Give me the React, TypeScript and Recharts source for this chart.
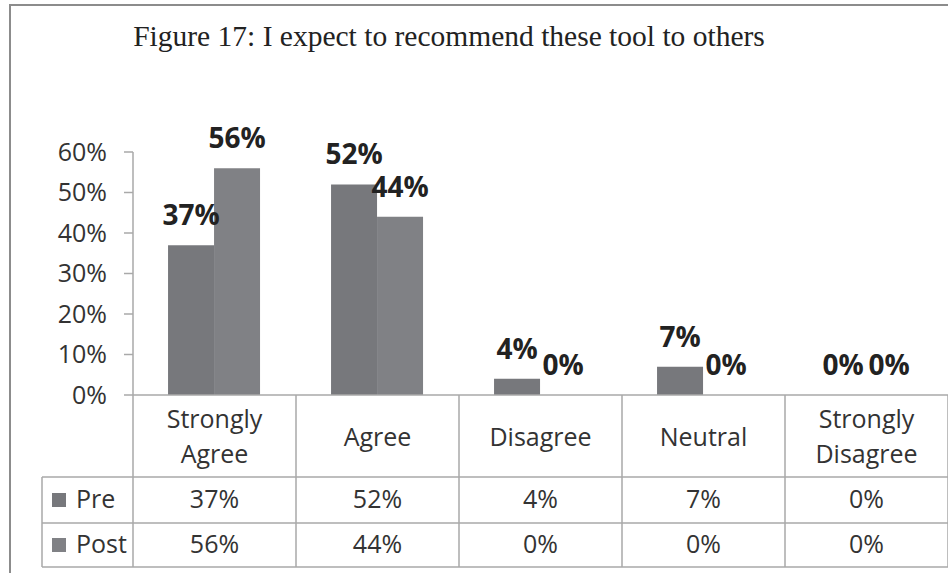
import React from "react";
import { Bar, BarChart, LabelList, XAxis, YAxis } from "recharts";

const categories = ["Strongly Agree", "Agree", "Disagree", "Neutral", "Strongly Disagree"];
const categoryLines = [["Strongly", "Agree"], ["Agree"], ["Disagree"], ["Neutral"], ["Strongly", "Disagree"]];
const preValues = [37, 52, 4, 7, 0];
const postValues = [56, 44, 0, 0, 0];
const yTicks = [0, 10, 20, 30, 40, 50, 60];

const data = categories.map((name, i) => ({ name, pre: preValues[i], post: postValues[i] }));

const W = 948;
const H = 573;
const PLOT_LEFT = 133;
const BAND = (W - PLOT_LEFT) / categories.length;
const GRID = "#a9a9a9";
const TEXT = "#333";
const PRE_COLOR = "#77787c";
const POST_COLOR = "#808185";
const SANS = "'Open Sans', sans-serif";
const TABLE_FONT = 25;

const pct = (v: number) => `${v}%`;

function TableTick(props: any) {
  const { x, y, payload } = props;
  const i = payload.index as number;
  const lines = categoryLines[i];
  const rowTop = y + 82;
  const row2 = y + 128;
  const bottom = y + 172;
  return (
    <g fontFamily={SANS} fill={TEXT}>
      {i === 0 && (
        <g>
          <line x1={x - BAND / 2} x2={x - BAND / 2} y1={y} y2={bottom} stroke={GRID} strokeWidth={1.5} />
          <line x1={42} x2={W} y1={rowTop} y2={rowTop} stroke={GRID} strokeWidth={1.5} />
          <line x1={42} x2={W} y1={row2} y2={row2} stroke={GRID} strokeWidth={1.5} />
          <line x1={42} x2={W} y1={bottom} y2={bottom} stroke={GRID} strokeWidth={1.5} />
          <line x1={42} x2={42} y1={rowTop} y2={bottom} stroke={GRID} strokeWidth={1.5} />
          <rect x={52} y={rowTop + 16} width={14} height={14} fill={PRE_COLOR} />
          <text x={76} y={rowTop + 31} fontSize={TABLE_FONT}>Pre</text>
          <rect x={52} y={row2 + 15} width={14} height={14} fill={POST_COLOR} />
          <text x={76} y={row2 + 30} fontSize={TABLE_FONT}>Post</text>
        </g>
      )}
      <line x1={x + BAND / 2} x2={x + BAND / 2} y1={y} y2={bottom} stroke={GRID} strokeWidth={1.5} />
      {lines.map((t, k) => (
        <text
          key={t}
          x={x}
          y={lines.length === 1 ? y + 51 : y + 33 + k * 35}
          textAnchor="middle"
          fontSize={TABLE_FONT}
        >
          {t}
        </text>
      ))}
      <text x={x} y={rowTop + 31} textAnchor="middle" fontSize={TABLE_FONT}>
        {pct(preValues[i])}
      </text>
      <text x={x} y={row2 + 30} textAnchor="middle" fontSize={TABLE_FONT}>
        {pct(postValues[i])}
      </text>
    </g>
  );
}

export default function App() {
  return (
    <div
      style={{
        position: "absolute",
        left: 0,
        top: 0,
        width: W,
        height: H,
        background: "#fff",
        overflow: "hidden",
      }}
    >
      <div
        style={{
          position: "absolute",
          left: 9,
          top: 4,
          width: W,
          height: H,
          borderLeft: "2px solid #8c8c8c",
          borderTop: "2px solid #8c8c8c",
        }}
      />
      <div
        style={{
          position: "absolute",
          left: 0,
          top: 17,
          width: 898,
          textAlign: "center",
          fontFamily: "'Liberation Serif', serif",
          fontSize: 29.5,
          lineHeight: "38px",
          color: "#222",
        }}
      >
        Figure 17: I expect to recommend these tool to others
      </div>
      <BarChart
        width={W}
        height={H}
        data={data}
        margin={{ top: 152, right: 0, bottom: 0, left: 0 }}
        barCategoryGap="21.5%"
        barGap={0}
        style={{ position: "absolute", left: 0, top: 0 }}
      >
        <XAxis
          dataKey="name"
          height={178}
          tickLine={false}
          tickSize={0}
          tickMargin={0}
          axisLine={{ stroke: GRID, strokeWidth: 1.5 }}
          tick={<TableTick />}
          interval={0}
        />
        <YAxis
          width={PLOT_LEFT}
          domain={[0, 60]}
          ticks={yTicks}
          tickFormatter={pct}
          tickSize={9}
          tickMargin={17}
          axisLine={{ stroke: GRID, strokeWidth: 1.5 }}
          tickLine={{ stroke: GRID, strokeWidth: 1.5 }}
          tick={{ fill: TEXT, fontSize: 25, fontFamily: SANS }}
        />
        <Bar dataKey="pre" fill={PRE_COLOR} minPointSize={0.01} isAnimationActive={false}>
          <LabelList
            dataKey="pre"
            position="top"
            offset={20}
            formatter={(v: any) => pct(Number(v))}
            style={{ fill: "#222", fontSize: 28, fontWeight: 700, fontFamily: SANS }}
          />
        </Bar>
        <Bar dataKey="post" fill={POST_COLOR} minPointSize={0.01} isAnimationActive={false}>
          <LabelList
            dataKey="post"
            position="top"
            offset={20}
            formatter={(v: any) => pct(Number(v))}
            style={{ fill: "#222", fontSize: 28, fontWeight: 700, fontFamily: SANS }}
          />
        </Bar>
      </BarChart>
    </div>
  );
}
